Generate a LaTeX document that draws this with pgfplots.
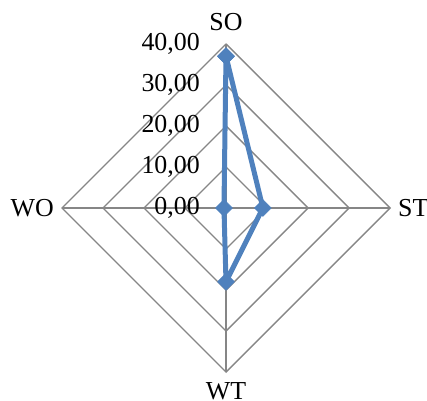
\documentclass[border=0pt]{standalone}
\usepackage{pgfplots}
\pgfplotsset{compat=1.18}
\usepackage{pgfplotstable}
\usepackage{fontspec}
\setmainfont{Liberation Serif}
\definecolor{gridgray}{RGB}{134,134,134}
\definecolor{serblue}{RGB}{79,129,189}
\pgfplotstableread{
cat ang val
SO 90 37
ST 0 9
WT 270 18
WO 180 0.5
SO 90 37
}\radardata
\begin{document}
\begin{tikzpicture}
\begin{axis}[x=4.1bp, y=4.1bp, xmin=-40, xmax=40, ymin=-40, ymax=40,
  hide axis, clip=false]
% grid diamonds
\foreach \r in {10,20,30,40}{
  \edef\temp{\noexpand\addplot[gridgray, line width=1.4bp, no marks] coordinates {(0,\r) (\r,0) (0,-\r) (-\r,0) (0,\r)};}
  \temp
}
\addplot[gridgray, line width=1.4bp, no marks] coordinates {(0,40) (0,-40)};
\addplot[gridgray, line width=1.4bp, no marks] coordinates {(-40,0) (40,0)};
% data
\addplot[serblue, line width=5bp, line join=round,
  mark=square*, mark size=6bp, mark options={rotate=45, line width=0.5bp, fill=serblue}]
  table[x expr={\thisrow{val}*cos(\thisrow{ang})}, y expr={\thisrow{val}*sin(\thisrow{ang})}] {\radardata};
% category labels
\node[anchor=base, inner sep=0, yshift=13bp, font=\fontsize{26}{30}\selectfont] at (axis cs:0,40) {SO};
\node[anchor=west, inner sep=0, xshift=8bp, font=\fontsize{26}{30}\selectfont] at (axis cs:40,0) {ST};
\node[anchor=north, inner sep=0, yshift=-10bp, font=\fontsize{26}{30}\selectfont] at (axis cs:0,-40) {WT};
\node[anchor=east, inner sep=0, xshift=-8bp, font=\fontsize{26}{30}\selectfont] at (axis cs:-40,0) {WO};
% value labels
\foreach \v/\t in {0/{0,00},10/{10,00},20/{20,00},30/{30,00},40/{40,00}}{
  \edef\temp{\noexpand\node[anchor=east, inner sep=0, xshift=-26bp, font=\noexpand\fontsize{26}{30}\noexpand\selectfont] at (axis cs:0,\v) {\t};}
  \temp
}
\coordinate (bl) at (axis cs:-55.12,-47.07);
\coordinate (tr) at (axis cs:49.02,50.73);
\end{axis}
\pgfresetboundingbox
\useasboundingbox (bl) rectangle (tr);
\end{tikzpicture}
\end{document}
